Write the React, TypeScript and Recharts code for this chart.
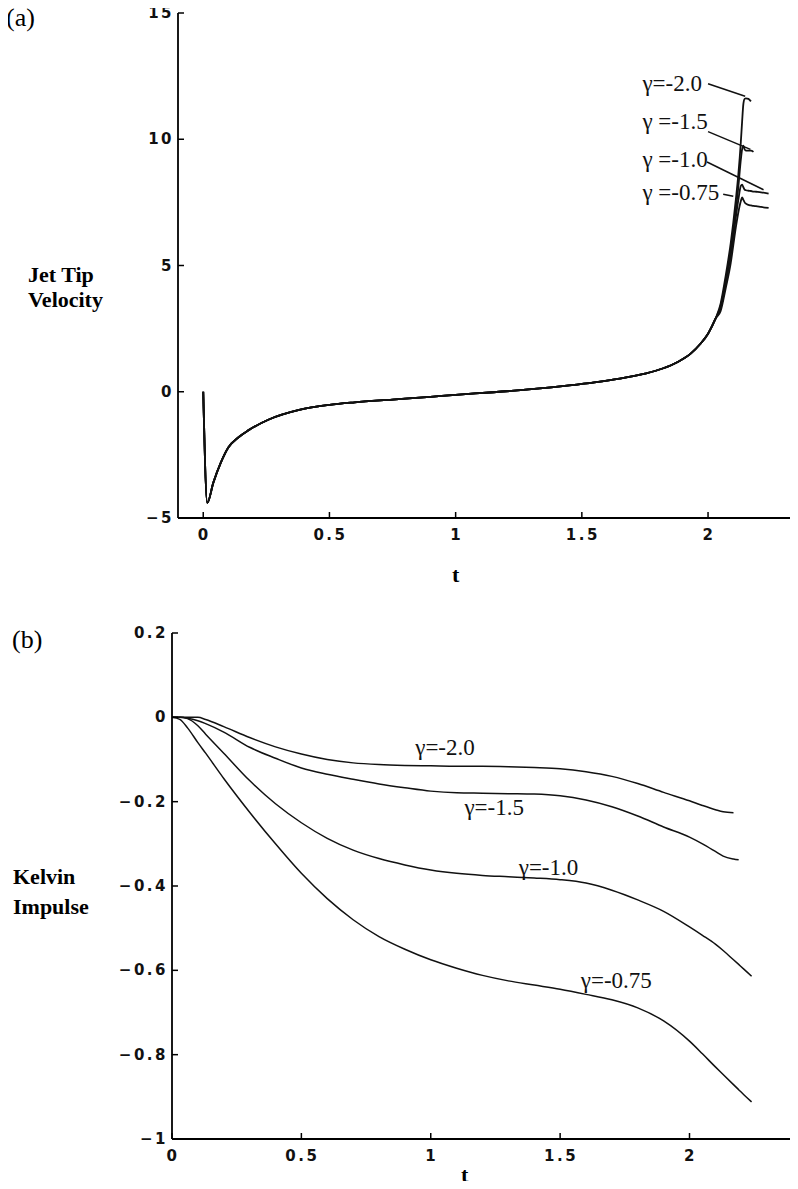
import React from "react"
import { LineChart, Line, XAxis, YAxis, ReferenceLine, ReferenceDot } from "recharts"

// (a) jet tip velocity, shared time grid
const tipTime = [
  0, 0.016, 0.04, 0.07, 0.1, 0.14, 0.18, 0.26, 0.38, 0.5, 0.6, 0.75, 0.9, 1.0, 1.15, 1.3, 1.45,
  1.55, 1.65, 1.75, 1.82, 1.88, 1.93, 1.97, 2.0, 2.03, 2.05, 2.07, 2.09, 2.1, 2.11, 2.12, 2.13,
  2.135, 2.14, 2.145, 2.15, 2.16, 2.17, 2.18, 2.19, 2.21, 2.24,
]
const tipCommon = [
  0, -4.4, -3.6, -2.8, -2.2, -1.8, -1.52, -1.1, -0.72, -0.52, -0.42, -0.31, -0.2, -0.12, -0.02,
  0.1, 0.25, 0.37, 0.52, 0.72, 0.92, 1.18, 1.5, 1.9, 2.3, 2.9,
]
const tipG200 = [3.5, 4.6, 5.9, 6.7, 7.6, 8.6, 9.9, 10.7, 11.4, 11.6, 11.62, 11.6, 11.5]
const tipG150 = [3.4, 4.4, 5.6, 6.4, 7.2, 8.1, 9.2, 9.6, 9.75, 9.6, 9.55, 9.55, 9.55, 9.5]
const tipG100 = [3.3, 4.3, 5.4, 6.1, 6.9, 7.6, 8.15, 8.2, 8.1, 8.0, 7.98, 7.96, 7.95, 7.93, 7.92, 7.9, 7.85]
const tipG075 = [3.2, 4.1, 5.1, 5.8, 6.5, 7.1, 7.55, 7.7, 7.6, 7.5, 7.45, 7.4, 7.38, 7.36, 7.35, 7.32, 7.28]
const tipXTicks = [0, 0.5, 1, 1.5, 2]
const tipYTicks = [-5, 0, 5, 10, 15]

// (b) kelvin impulse
const kelvinTime = [
  0, 0.03, 0.06, 0.1, 0.13, 0.2, 0.3, 0.4, 0.5, 0.6, 0.7, 0.8, 0.9, 1.0, 1.1, 1.2, 1.3, 1.4, 1.5,
  1.6, 1.7, 1.8, 1.9, 2.0, 2.05, 2.1, 2.13, 2.17, 2.19, 2.21, 2.24,
]
const kelvinG200 = [
  0, 0, 0, 0, -0.005, -0.022, -0.048, -0.07, -0.087, -0.1, -0.108, -0.112, -0.114, -0.115, -0.116,
  -0.116, -0.117, -0.119, -0.122, -0.129, -0.14, -0.157, -0.178, -0.198, -0.209, -0.219, -0.224, -0.226,
]
const kelvinG150 = [
  0, 0, -0.002, -0.008, -0.015, -0.035, -0.071, -0.097, -0.12, -0.135, -0.147, -0.158, -0.167, -0.175,
  -0.179, -0.18, -0.181, -0.182, -0.186, -0.196, -0.212, -0.234, -0.26, -0.284, -0.3, -0.318, -0.329,
  -0.336, -0.338,
]
const kelvinG100 = [
  0, 0, -0.003, -0.02, -0.04, -0.085, -0.15, -0.205, -0.25, -0.287, -0.315, -0.335, -0.35, -0.362,
  -0.37, -0.375, -0.378, -0.381, -0.385, -0.393, -0.41, -0.433, -0.46, -0.497, -0.517, -0.538, -0.553,
  -0.575, -0.586, -0.597, -0.614,
]
const kelvinG075 = [
  0, -0.005, -0.025, -0.06, -0.085, -0.145, -0.225, -0.3, -0.37, -0.43, -0.48, -0.52, -0.55, -0.575,
  -0.595, -0.612, -0.625, -0.635, -0.645, -0.657, -0.67, -0.689, -0.72, -0.768, -0.798, -0.829, -0.847,
  -0.871, -0.883, -0.895, -0.912,
]
const kelvinXTicks = [0, 0.5, 1, 1.5, 2]
const kelvinYTicks = [-1, -0.8, -0.6, -0.4, -0.2, 0, 0.2]

const tipRows = tipTime.map((t, i) => {
  const k = i - tipCommon.length
  const pick = (arr: number[]) => (i < tipCommon.length ? tipCommon[i] : arr[k] ?? null)
  return { t, g200: pick(tipG200), g150: pick(tipG150), g100: pick(tipG100), g075: pick(tipG075) }
})

const kelvinRows = kelvinTime.map((t, i) => ({
  t,
  g200: kelvinG200[i] ?? null,
  g150: kelvinG150[i] ?? null,
  g100: kelvinG100[i] ?? null,
  g075: kelvinG075[i] ?? null,
}))

// annotation placement (data units)
const tipNotes = [
  { text: "γ=-2.0", at: [1.74, 12.2], from: [2.0, 12.2], to: [2.147, 11.7] },
  { text: "γ =-1.5", at: [1.74, 10.7], from: [2.0, 10.3], to: [2.168, 9.6] },
  { text: "γ =-1.0", at: [1.74, 9.2], from: [1.996, 9.1], to: [2.22, 8.0] },
  { text: "γ =-0.75", at: [1.74, 7.9], from: [2.06, 7.82], to: [2.1, 7.74] },
]
const kelvinNotes = [
  { text: "γ=-2.0", at: [0.94, -0.071] },
  { text: "γ=-1.5", at: [1.13, -0.214] },
  { text: "γ=-1.0", at: [1.34, -0.357] },
  { text: "γ=-0.75", at: [1.58, -0.625] },
]

const TICK = 6
const AXIS = { stroke: "#000", strokeWidth: 1.8 }
const tickText = {
  fontFamily: "'DejaVu Sans', sans-serif",
  fontSize: 15,
  fontWeight: 700,
  letterSpacing: 2.5,
  fill: "#111",
}
const serif = "'Liberation Serif', 'Times New Roman', serif"

const fmt = (v: number) => (v < 0 ? "\u2212" + Math.abs(v) : String(v))

const LeftTick = (p: any) => (
  <g>
    <line x1={p.x} x2={p.x + TICK} y1={p.y} y2={p.y} stroke="#000" strokeWidth={1.5} />
    <text x={p.x - 4} y={p.y} textAnchor="end" dominantBaseline="central" {...tickText}>
      {fmt(p.payload.value)}
    </text>
  </g>
)
const BottomTick = (p: any) => (
  <g>
    <line x1={p.x} x2={p.x} y1={p.y} y2={p.y - TICK} stroke="#000" strokeWidth={1.5} />
    <text x={p.x + 1} y={p.y + 17} textAnchor="middle" dominantBaseline="central" {...tickText}>
      {fmt(p.payload.value)}
    </text>
  </g>
)
const TopTick = (p: any) => (
  <line x1={p.x} x2={p.x} y1={p.y} y2={p.y + TICK} stroke="#000" strokeWidth={1.5} />
)
const RightTick = (p: any) => (
  <line x1={p.x} x2={p.x - TICK} y1={p.y} y2={p.y} stroke="#000" strokeWidth={1.5} />
)

const noteText = (text: string) => (p: any) => (
  <text x={p.cx} y={p.cy} textAnchor="start" dominantBaseline="central" fontFamily={serif} fontSize={23} fill="#111">
    {text}
  </text>
)

function Frame({ xDomain, yDomain, xTicks, yTicks }: any) {
  return [
    <XAxis key="xb" dataKey="t" type="number" domain={xDomain} ticks={xTicks} interval={0}
      tickSize={0} tickMargin={0} height={30} axisLine={AXIS} tick={<BottomTick />} allowDataOverflow />,
    <XAxis key="xt" xAxisId="top" orientation="top" dataKey="t" type="number" domain={xDomain} ticks={xTicks}
      interval={0} tickSize={0} tickMargin={0} height={0} axisLine={AXIS} tick={<TopTick />} allowDataOverflow />,
    <YAxis key="yl" type="number" domain={yDomain} ticks={yTicks} interval={0} tickSize={0} tickMargin={0}
      width={40} axisLine={AXIS} tick={<LeftTick />} allowDataOverflow />,
    <YAxis key="yr" yAxisId="right" orientation="right" type="number" domain={yDomain} ticks={yTicks}
      interval={0} tickSize={0} tickMargin={0} width={0} axisLine={AXIS} tick={<RightTick />} allowDataOverflow />,
  ]
}

const series = ["g200", "g150", "g100", "g075"]

export default function App() {
  return (
    <div style={{ position: "relative", margin: -8, width: 798, height: 1189, overflow: "hidden", background: "#fff" }}>
      <div style={{ position: "absolute", left: 6, top: 3, fontFamily: serif, fontSize: 26 }}>(a)</div>
      <div style={{ position: "absolute", left: 28, top: 262, fontFamily: serif, fontSize: 22, fontWeight: 700, lineHeight: "25px" }}>
        Jet Tip<br />Velocity
      </div>
      <div style={{ position: "absolute", left: 452, top: 562, fontFamily: serif, fontSize: 22, fontWeight: 700 }}>t</div>

      <div style={{ position: "absolute", left: 0, top: 0 }}>
        <LineChart width={830} height={600} data={tipRows} margin={{ top: 13, right: 21, left: 138, bottom: 52 }}>
          {Frame({ xDomain: [-0.1, 2.4], yDomain: [-5, 15], xTicks: tipXTicks, yTicks: tipYTicks })}
          {series.map((s) => (
            <Line key={s} dataKey={s} type="monotone" stroke="#111" strokeWidth={1.8} dot={false} isAnimationActive={false} />
          ))}
          {tipNotes.map((n) => (
            <ReferenceLine key={"l" + n.text} segment={[{ x: n.from[0], y: n.from[1] }, { x: n.to[0], y: n.to[1] }]}
              stroke="#111" strokeWidth={1.5} ifOverflow="visible" />
          ))}
          {tipNotes.map((n) => (
            <ReferenceDot key={"d" + n.text} x={n.at[0]} y={n.at[1]} r={0} ifOverflow="visible" shape={noteText(n.text)} />
          ))}
        </LineChart>
      </div>

      <div style={{ position: "absolute", left: 12, top: 625, fontFamily: serif, fontSize: 26 }}>(b)</div>
      <div style={{ position: "absolute", left: 13, top: 862, fontFamily: serif, fontSize: 22, fontWeight: 700, lineHeight: "30px" }}>
        Kelvin<br />Impulse
      </div>
      <div style={{ position: "absolute", left: 461, top: 1162, fontFamily: serif, fontSize: 22, fontWeight: 700 }}>t</div>

      <div style={{ position: "absolute", left: 0, top: 600 }}>
        <LineChart width={798} height={589} data={kelvinRows} margin={{ top: 33, right: 5, left: 132, bottom: 20 }}>
          {Frame({ xDomain: [0, 2.4], yDomain: [-1, 0.2], xTicks: kelvinXTicks, yTicks: kelvinYTicks })}
          {series.map((s) => (
            <Line key={s} dataKey={s} type="monotone" stroke="#111" strokeWidth={1.5} dot={false} isAnimationActive={false} />
          ))}
          {kelvinNotes.map((n) => (
            <ReferenceDot key={n.text} x={n.at[0]} y={n.at[1]} r={0} ifOverflow="visible" shape={noteText(n.text)} />
          ))}
        </LineChart>
      </div>
    </div>
  )
}
